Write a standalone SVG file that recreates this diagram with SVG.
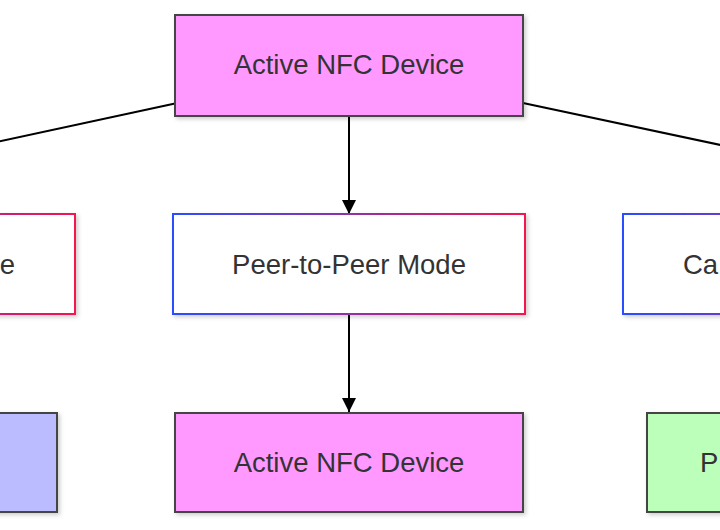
<svg xmlns="http://www.w3.org/2000/svg" width="720" height="530" viewBox="0 0 720 530">
<style>
.lbl{font-family:"Liberation Sans",Arial,sans-serif;font-size:27.5px;fill:#333333}
.dark{stroke:#444444;stroke-width:2}
.grad{fill:#ffffff;stroke:url(#bd);stroke-width:2}
.edge{stroke:#000000;stroke-width:2;fill:none}
</style>
<defs>
<linearGradient id="bd" x1="0" y1="0" x2="1" y2="0">
<stop offset="0" stop-color="#2a4dff"/>
<stop offset="1" stop-color="#f4144f"/>
</linearGradient>
<filter id="sh" x="-10%" y="-20%" width="120%" height="140%">
<feDropShadow dx="2" dy="2" stdDeviation="2" flood-color="#000000" flood-opacity="0.2"/>
</filter>
<marker id="ah2" viewBox="0 0 10 10" refX="10" refY="5" markerWidth="14" markerHeight="14" orient="auto" markerUnits="userSpaceOnUse">
<path d="M0,0 L10,5 L0,10 z" fill="#000000"/>
</marker>
</defs>
<rect width="720" height="530" fill="#ffffff"/>
<g id="connectors">
<line class="edge" x1="175" y1="103.5" x2="-10" y2="143.5"/>
<line class="edge" x1="523" y1="103" x2="730" y2="147"/>
<line class="edge" x1="349" y1="116" x2="349" y2="214" marker-end="url(#ah2)"/>
<line class="edge" x1="349" y1="315" x2="349" y2="412" marker-end="url(#ah2)"/>
</g>
<g id="node-top">
<rect class="dark" x="175" y="15" width="348" height="101" fill="#ff99ff" filter="url(#sh)"/>
<text class="lbl" x="349" y="74" text-anchor="middle">Active NFC Device</text>
</g>
<g id="node-left">
<rect class="grad" x="-277" y="214" width="352" height="100" filter="url(#sh)"/>
<text class="lbl" x="15" y="273.5" text-anchor="end">e</text>
</g>
<g id="node-mid">
<rect class="grad" x="173" y="214" width="352" height="100" filter="url(#sh)"/>
<text class="lbl" x="349" y="273.5" text-anchor="middle">Peer-to-Peer Mode</text>
</g>
<g id="node-right">
<rect class="grad" x="623" y="214" width="352" height="100" filter="url(#sh)"/>
<text class="lbl" x="683" y="273.5">Ca</text>
</g>
<g id="node-bottom-left">
<rect class="dark" x="-291" y="413" width="348" height="99" fill="#bbbbff" filter="url(#sh)"/>
</g>
<g id="node-bottom-mid">
<rect class="dark" x="175" y="413" width="348" height="99" fill="#ff99ff" filter="url(#sh)"/>
<text class="lbl" x="349" y="472" text-anchor="middle">Active NFC Device</text>
</g>
<g id="node-bottom-right">
<rect class="dark" x="647" y="413" width="348" height="99" fill="#bbffbb" filter="url(#sh)"/>
<text class="lbl" x="700" y="472">P</text>
</g>
</svg>
